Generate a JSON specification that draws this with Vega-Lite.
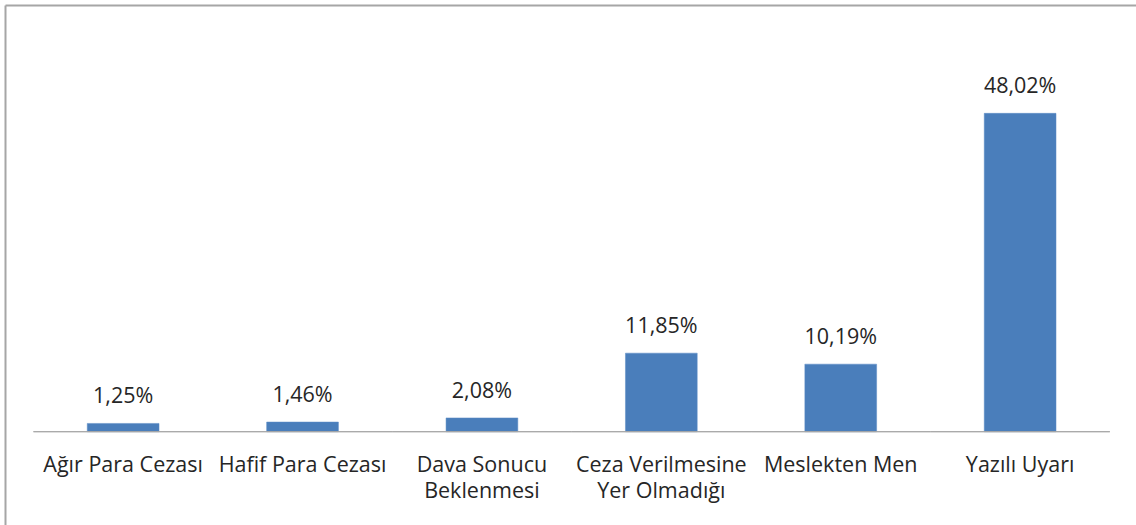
{
  "$schema": "https://vega.github.io/schema/vega-lite/v6.json",
  "autosize": "none",
  "width": 1131,
  "height": 520,
  "padding": {"left": 5, "top": 5, "right": 0, "bottom": 0},
  "background": "white",
  "config": {
    "view": {"stroke": null},
    "axis": {"grid": false},
    "font": "Open Sans"
  },
  "data": {
    "values": [
      {"kategori": "Ağır Para Cezası", "oran": 1.25, "etiket": "1,25%"},
      {"kategori": "Hafif Para Cezası", "oran": 1.46, "etiket": "1,46%"},
      {"kategori": "Dava Sonucu\nBeklenmesi", "oran": 2.08, "etiket": "2,08%"},
      {"kategori": "Ceza Verilmesine\nYer Olmadığı", "oran": 11.85, "etiket": "11,85%"},
      {"kategori": "Meslekten Men", "oran": 10.19, "etiket": "10,19%"},
      {"kategori": "Yazılı Uyarı", "oran": 48.02, "etiket": "48,02%"}
    ]
  },
  "resolve": {"axis": {"x": "independent"}},
  "layer": [
    {
      "mark": {"type": "bar", "color": "#4A7EBB", "stroke": "#5B8BC4", "strokeWidth": 0.5},
      "encoding": {
        "x": {
          "field": "kategori", "type": "nominal", "sort": null,
          "scale": {"paddingInner": 0.6, "paddingOuter": 0.4522, "align": 0.507},
          "axis": {
            "orient": "bottom", "offset": -93.3, "domain": false, "ticks": false, "tickSize": 0,
            "title": null, "labelAngle": 0, "labelPadding": 40, "labelBaseline": "alphabetic",
            "labelLineHeight": 26, "labelFontSize": 21.5, "labelFont": "Open Sans",
            "labelColor": "#262626", "labelLimit": 400, "labelOverlap": false, "labelFlush": false,
            "labelExpr": "split(datum.label, '\\n')"
          }
        },
        "y": {
          "field": "oran", "type": "quantitative",
          "scale": {"domain": [-14.07, 64.36], "nice": false, "zero": false},
          "axis": {"orient": "left", "domain": true, "domainColor": "#A6A6A6", "domainWidth": 2, "ticks": false, "labels": false, "grid": false, "title": null}
        },
        "y2": {"datum": 0}
      }
    },
    {
      "mark": {"type": "text", "baseline": "alphabetic", "align": "center", "dy": -20, "fontSize": 21.5, "font": "Open Sans", "color": "#262626"},
      "encoding": {
        "x": {
          "field": "kategori", "type": "nominal", "sort": null,
          "scale": {"paddingInner": 0.6, "paddingOuter": 0.4522, "align": 0.507},
          "axis": {"orient": "top", "domain": true, "domainColor": "#A6A6A6", "domainWidth": 2, "ticks": false, "labels": false, "title": null, "grid": false}
        },
        "y": {
          "field": "oran", "type": "quantitative",
          "scale": {"domain": [-14.07, 64.36], "nice": false, "zero": false},
          "axis": {"orient": "left", "domain": true, "domainColor": "#A6A6A6", "domainWidth": 2, "ticks": false, "labels": false, "grid": false, "title": null}
        },
        "text": {"field": "etiket"}
      }
    },
    {
      "mark": {"type": "bar", "width": {"band": 2.5}, "fill": null, "stroke": "#A6A6A6", "strokeWidth": 1},
      "encoding": {
        "x": {
          "field": "kategori", "type": "nominal", "sort": null,
          "scale": {"paddingInner": 0.6, "paddingOuter": 0.4522, "align": 0.507},
          "axis": null
        },
        "y": {
          "datum": 0, "type": "quantitative",
          "axis": {"orient": "left", "domain": true, "domainColor": "#A6A6A6", "domainWidth": 2, "ticks": false, "labels": false, "grid": false, "title": null}
        },
        "y2": {"datum": 0}
      }
    }
  ]
}
